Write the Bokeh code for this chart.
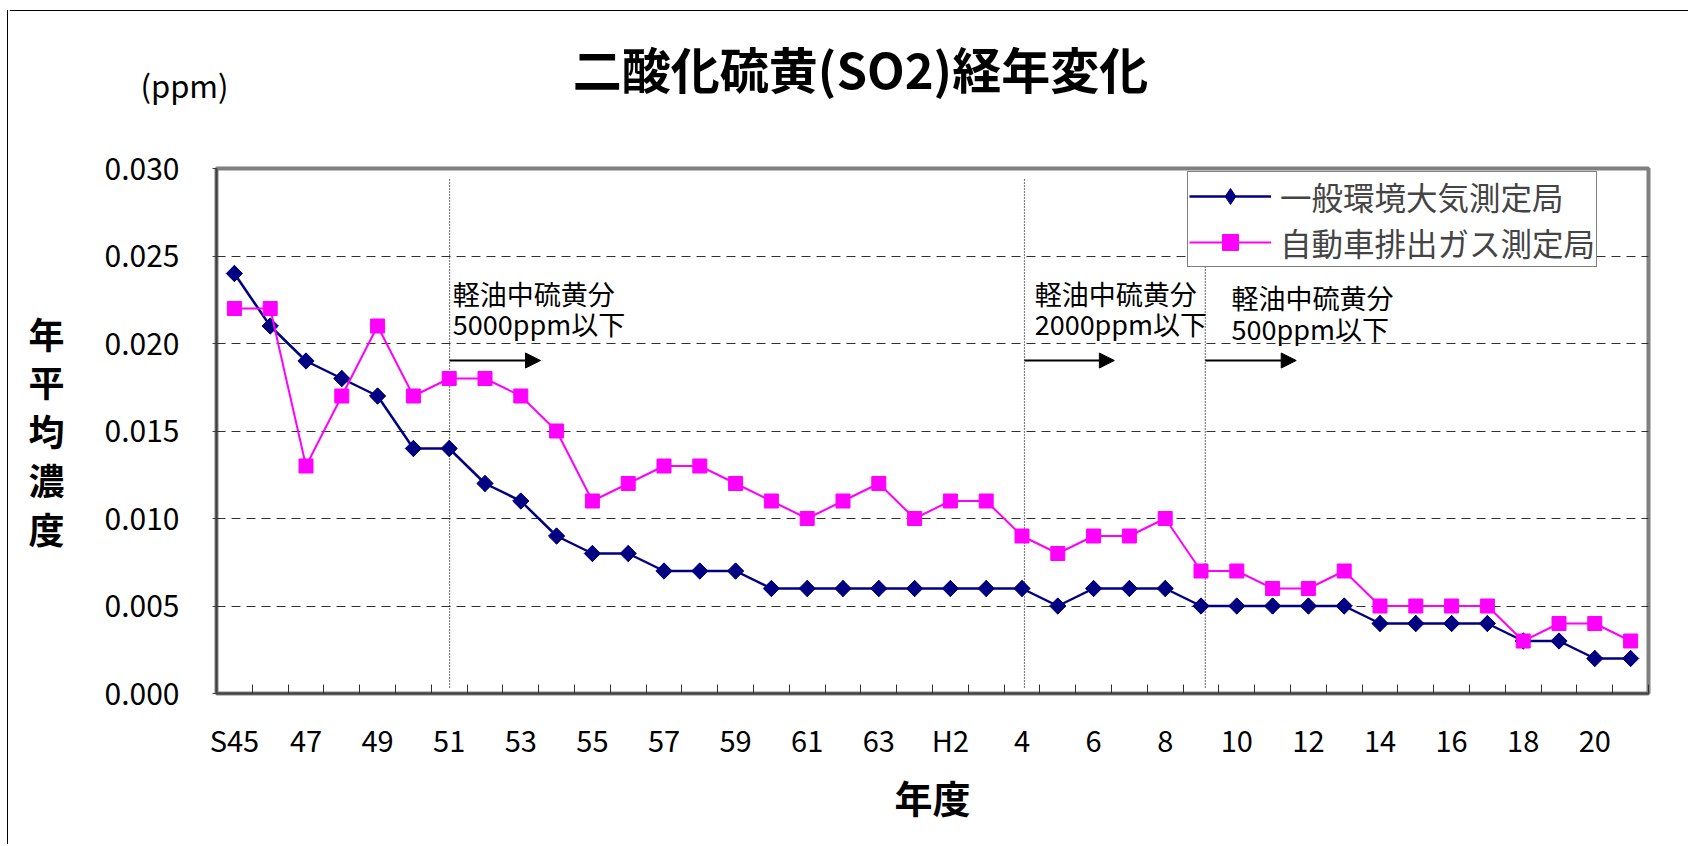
import numpy as np
from bokeh.plotting import figure
from bokeh.layouts import column, row
from bokeh.models import (Range1d, FixedTicker, NumeralTickFormatter, Legend, LegendItem,
                          Label, Arrow, NormalHead, ColumnDataSource, Spacer)
from bokeh.embed import file_html
from bokeh.resources import INLINE

# ---------------- data ----------------
categories = ["S45", "S46", "S47", "S48", "S49", "S50", "S51", "S52", "S53", "S54",
              "S55", "S56", "S57", "S58", "S59", "S60", "S61", "S62", "S63", "H1",
              "H2", "H3", "H4", "H5", "H6", "H7", "H8", "H9", "H10", "H11",
              "H12", "H13", "H14", "H15", "H16", "H17", "H18", "H19", "H20", "H21"]

tick_categories = ["S45", "S47", "S49", "S51", "S53", "S55", "S57", "S59", "S61", "S63",
                   "H2", "H4", "H6", "H8", "H10", "H12", "H14", "H16", "H18", "H20"]
tick_labels = ["S45", "47", "49", "51", "53", "55", "57", "59", "61", "63",
               "H2", "4", "6", "8", "10", "12", "14", "16", "18", "20"]

ambient = [0.024, 0.021, 0.019, 0.018, 0.017, 0.014, 0.014, 0.012, 0.011, 0.009,
           0.008, 0.008, 0.007, 0.007, 0.007, 0.006, 0.006, 0.006, 0.006, 0.006,
           0.006, 0.006, 0.006, 0.005, 0.006, 0.006, 0.006, 0.005, 0.005, 0.005,
           0.005, 0.005, 0.004, 0.004, 0.004, 0.004, 0.003, 0.003, 0.002, 0.002]

roadside = [0.022, 0.022, 0.013, 0.017, 0.021, 0.017, 0.018, 0.018, 0.017, 0.015,
            0.011, 0.012, 0.013, 0.013, 0.012, 0.011, 0.010, 0.011, 0.012, 0.010,
            0.011, 0.011, 0.009, 0.008, 0.009, 0.009, 0.010, 0.007, 0.007, 0.006,
            0.006, 0.007, 0.005, 0.005, 0.005, 0.005, 0.003, 0.004, 0.004, 0.003]

y_ticks = [0.0, 0.005, 0.010, 0.015, 0.020, 0.025, 0.030]

series_names = ["一般環境大気測定局", "自動車排出ガス測定局"]
title_text = "二酸化硫黄(SO2)経年変化"
unit_text = "(ppm)"
ylabel_chars = ["年", "平", "均", "濃", "度"]
xlabel_text = "年度"

# regulation notes: category at which the regulation starts
note_categories = ["S51", "H4", "H9"]
note_line1 = ["軽油中硫黄分", "軽油中硫黄分", "軽油中硫黄分"]
note_line2 = ["5000ppm以下", "2000ppm以下", "500ppm以下"]

FONT = "Noto Sans CJK JP"

# ---------------- page geometry (px) ----------------
PAGE_W = 1688
PAGE_H = 844
TOP_H = 120          # header strip height
SPACER_W = 8         # left margin strip (+1px border line)
LEFT_W = 90          # y-label strip width
BODY_H = PAGE_H - TOP_H
F_LEFT, F_RIGHT, F_TOP, F_BOTTOM = 216.6, 1649.0, 168.0, 693.0
n = len(categories)
cat_w = (F_RIGHT - F_LEFT) / n
Y_MAX = 0.030
x_left0 = SPACER_W + 1


def dx(px):
    return -0.5 + (px - F_LEFT) / cat_w


def dy(py):
    return (F_BOTTOM - py) * Y_MAX / (F_BOTTOM - F_TOP)


def blank_fig(w, h, xr, yr):
    f = figure(width=w, height=h, x_range=xr, y_range=yr, output_backend="svg",
               toolbar_location=None, x_axis_type=None, y_axis_type=None, title=None,
               min_border=0, min_border_left=0, min_border_right=0,
               min_border_top=0, min_border_bottom=0,
               background_fill_color="white", border_fill_color="white")
    f.outline_line_color = None
    f.xgrid.visible = False
    f.ygrid.visible = False
    return f


# ---------------- header strip: title + unit ----------------
top = blank_fig(PAGE_W - x_left0, TOP_H, Range1d(x_left0, PAGE_W), Range1d(TOP_H, 0))
top.segment(x0=[x_left0], y0=[10], x1=[PAGE_W], y1=[10], line_color="black", line_width=1)
top.add_layout(Label(x=860, y=66.5, text=title_text, text_font=FONT,
                     text_font_size="49px", text_font_style="bold",
                     text_align="center", text_baseline="middle", text_color="black"))
top.add_layout(Label(x=184, y=83.5, text=unit_text, text_font=FONT,
                     text_font_size="31px", text_align="center", text_baseline="middle",
                     text_color="black"))
top_edge = column(Spacer(width=x_left0, height=10),
                  Spacer(width=SPACER_W, height=TOP_H - 10,
                         styles={"border-right": "1px solid black"}))

# ---------------- left strips: border line + vertical y label ----------------
edge = Spacer(width=SPACER_W, height=BODY_H, styles={"border-right": "1px solid black"})
# this strip's frame is aligned by the row with the chart frame (page y F_TOP..F_BOTTOM)
left = blank_fig(LEFT_W, BODY_H, Range1d(x_left0, x_left0 + LEFT_W), Range1d(F_BOTTOM, F_TOP))
for i, ch in enumerate(ylabel_chars):
    left.add_layout(Label(x=47, y=332 + 48.75 * i, text=ch, text_font=FONT,
                          text_font_size="36px", text_font_style="bold",
                          text_align="center", text_baseline="middle", text_color="black"))

# ---------------- main chart ----------------
xs = list(range(n))
main_x0 = x_left0 + LEFT_W
p = figure(width=PAGE_W - main_x0, height=BODY_H,
           x_range=Range1d(-0.5, n - 0.5), y_range=Range1d(0, Y_MAX),
           output_backend="svg", toolbar_location=None,
           min_border_left=int(round(F_LEFT - main_x0)), min_border_right=int(PAGE_W - F_RIGHT),
           min_border_top=int(F_TOP - TOP_H), min_border_bottom=int(PAGE_H - F_BOTTOM),
           background_fill_color="white", border_fill_color="white")

p.outline_line_color = "#808080"
p.outline_line_width = 4

p.xgrid.visible = False
p.ygrid.grid_line_color = "#303030"
p.ygrid.grid_line_dash = "9 6"
p.ygrid.grid_line_width = 1

# y axis
p.yaxis.ticker = FixedTicker(ticks=y_ticks)
p.yaxis.formatter = NumeralTickFormatter(format="0.000")
p.yaxis.major_label_text_font = FONT
p.yaxis.major_label_text_font_size = "30px"
p.yaxis.major_label_text_color = "black"
p.yaxis.major_label_standoff = 33
p.yaxis.major_tick_in = 0
p.yaxis.major_tick_out = 4
p.yaxis.major_tick_line_color = "#404040"
p.yaxis.minor_tick_line_color = None
p.yaxis.axis_line_color = "#404040"
p.yaxis.axis_line_width = 2

# x axis
tick_pos = [categories.index(c) for c in tick_categories]
bounds = [i - 0.5 for i in range(n + 1)]
p.xaxis.ticker = FixedTicker(ticks=tick_pos, minor_ticks=bounds)
p.xaxis.major_label_overrides = {int(t): lbl for t, lbl in zip(tick_pos, tick_labels)}
p.xaxis.major_label_text_font = FONT
p.xaxis.major_label_text_font_size = "29px"
p.xaxis.major_label_text_color = "black"
p.xaxis.major_label_standoff = 24
p.xaxis.major_tick_in = 0
p.xaxis.major_tick_out = 0
p.xaxis.minor_tick_in = 9
p.xaxis.minor_tick_out = 0
p.xaxis.minor_tick_line_color = "#303030"
p.xaxis.axis_line_color = "#404040"
p.xaxis.axis_line_width = 2
p.xaxis.axis_label = xlabel_text
p.xaxis.axis_label_text_font = FONT
p.xaxis.axis_label_text_font_size = "38px"
p.xaxis.axis_label_text_font_style = "bold"
p.xaxis.axis_label_text_color = "black"
p.xaxis.axis_label_standoff = 6

# regulation marker lines
note_x = [categories.index(c) for c in note_categories]
note_line_x = [note_x[0] + 0.01, note_x[1] + 0.07, note_x[2] + 0.12]
p.segment(x0=note_line_x, y0=[dy(687)] * 3, x1=note_line_x, y1=[dy(178)] * 3,
          line_color="black", line_width=1.2, line_dash="1 2")

# series
src1 = ColumnDataSource(dict(x=xs, y=ambient))
src2 = ColumnDataSource(dict(x=xs, y=roadside))
r1l = p.line("x", "y", source=src1, line_color="#000080", line_width=2.5)
# diamond glyph (used for the legend key), covered by the square-diamond marks on top
r1d = p.scatter("x", "y", source=src1, marker="diamond", size=16,
                fill_color="#000080", line_color="#000080")
r1m = p.scatter("x", "y", source=src1, marker="square", angle=np.pi / 4, size=11.5,
                fill_color="#000080", line_color="#000080")
r2l = p.line("x", "y", source=src2, line_color="#FF00FF", line_width=2)
r2m = p.scatter("x", "y", source=src2, marker="square", size=14,
                fill_color="#FF00FF", line_color="#FF00FF")

# arrows
arrow_len = [2.54, 2.51, 2.54]
for lx, al in zip(note_line_x, arrow_len):
    p.add_layout(Arrow(end=NormalHead(size=15, fill_color="black", line_color="black"),
                       x_start=lx, y_start=dy(360), x_end=lx + al, y_end=dy(360),
                       line_color="black", line_width=2))

# note texts
note_text_x = [dx(453), dx(1035), dx(1232)]
note_y1 = [dy(293), dy(293), dy(297)]
note_y2 = [dy(323), dy(323), dy(328)]
for tx, t1, t2, y1, y2 in zip(note_text_x, note_line1, note_line2, note_y1, note_y2):
    for t, yy in ((t1, y1), (t2, y2)):
        p.add_layout(Label(x=tx, y=yy, text=t, text_font=FONT, text_font_size="27px",
                           text_align="left", text_baseline="middle", text_color="black"))

# legend
legend = Legend(items=[LegendItem(label=series_names[0], renderers=[r1l, r1d]),
                       LegendItem(label=series_names[1], renderers=[r2l, r2m])],
                location=(971, 426),
                label_text_font=FONT, label_text_font_size="31.5px",
                glyph_width=82, glyph_height=40, label_height=40,
                label_standoff=9, padding=1, spacing=0, margin=0,
                border_line_color="black", border_line_width=1,
                background_fill_color="white", background_fill_alpha=1)
p.add_layout(legend)

layout = column(row(top_edge, top), row(edge, left, p))
open("out.html", "w").write(file_html(layout, INLINE))
